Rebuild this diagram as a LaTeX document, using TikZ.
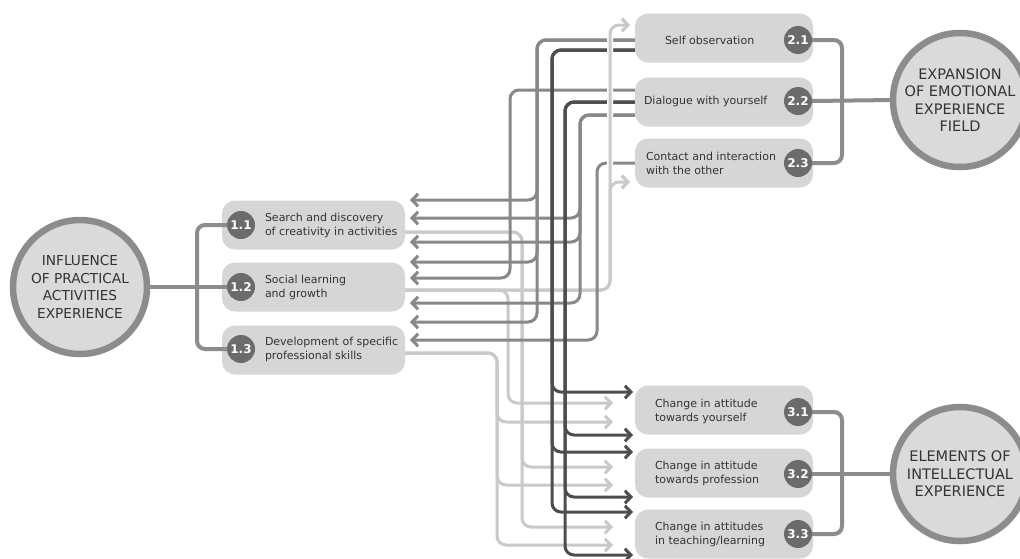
\documentclass[tikz,border=0pt]{standalone}
\usepackage{fontspec}
\setmainfont{DejaVu Sans}
\usetikzlibrary{arrows.meta}
\definecolor{cdark}{HTML}{4D4D4D}
\definecolor{cmed}{HTML}{888888}
\definecolor{clight}{HTML}{C9C9C9}
\definecolor{cbox}{HTML}{D6D6D6}
\definecolor{cbadge}{HTML}{6B6B6B}
\definecolor{cring}{HTML}{8C8C8C}
\definecolor{cfill}{HTML}{DADADA}
\definecolor{ctext}{HTML}{333333}
% connector groups: #1 = style
\newcommand\pathsA[1]{\foreach \yy in {200,262,322}{\draw[#1] (sA) -- (537,40) -- (537,\yy) -- (410,\yy);}}
\newcommand\pathsB[1]{\foreach \yy in {392,452,512}{\draw[#1] (sB) -- (552,50) -- (552,\yy) -- (633,\yy);}}
\newcommand\pathsC[1]{\draw[#1] (sC) -- (510,90) -- (510,278) -- (410,278);}
\newcommand\pathsD[1]{\foreach \yy in {435,497,555}{\draw[#1] (sD) -- (565,102) -- (565,\yy) -- (633,\yy);}}
\newcommand\pathsE[1]{\foreach \yy in {218,242,303}{\draw[#1] (sE) -- (580,115) -- (580,\yy) -- (410,\yy);}}
\newcommand\pathsF[1]{\draw[#1] (sF) -- (597,163) -- (597,340) -- (410,340);}
\newcommand\pathsLa[1]{\foreach \yy in {467,527}{\draw[#1] (sL1) -- (522,232) -- (522,\yy) -- (613,\yy);}}
\newcommand\pathsLb[1]{\draw[#1] (sL2) -- (508,290) -- (508,403) -- (613,403);}
\newcommand\pathsLt[1]{\draw[#1] (sL2) -- (610,290) -- (610,25) -- (630,25);
  \draw[#1] (sL2) -- (610,290) -- (610,182) -- (630,182);}
\newcommand\pathsLc[1]{\foreach \yy in {422,485,545}{\draw[#1] (sL3) -- (497,353) -- (497,\yy) -- (613,\yy);}}
\begin{document}
\begin{tikzpicture}[x=1pt,y=-1pt,
  every node/.style={inner sep=0pt, outer sep=0pt},
  boxnode/.style={fill=cbox, rounded corners=13pt, minimum height=49pt},
  lbox/.style={boxnode, minimum width=183pt},
  rbox/.style={boxnode, minimum width=178pt},
  badge/.style={circle, fill=cbadge, minimum size=28pt, text=white, font=\fontsize{12}{12}\selectfont\bfseries},
  txt/.style={anchor=west, align=left, text=ctext, font=\fontsize{11}{14}\selectfont},
  bigc/.style={circle, draw=cring, line width=6.5pt, fill=cfill, minimum size=134pt, align=center, text=ctext, font=\fontsize{14.5}{17.5}\selectfont},
  bracket/.style={draw=cring, line width=4pt, rounded corners=8pt},
  conn/.style={line width=3pt, rounded corners=9pt, -{Straight Barb[length=6pt,width=12.5pt]}},
  casing/.style={draw=white, line width=6pt, rounded corners=9pt},
  medline/.style={conn, draw=cmed},
  darkline/.style={conn, draw=cdark},
  liteline/.style={conn, draw=clight},
]
\useasboundingbox (0,0) rectangle (1020,558);
\clip (0,0) rectangle (1020,558);
\fill[white] (0,0) rectangle (1020,558);

% start coordinates
\coordinate (sA) at (635,40);
\coordinate (sB) at (635,50);
\coordinate (sC) at (635,90);
\coordinate (sD) at (635,102);
\coordinate (sE) at (635,115);
\coordinate (sF) at (635,163);
\coordinate (sL1) at (405,232);
\coordinate (sL2) at (405,290);
\coordinate (sL3) at (405,353);

% connectors: light ones underneath, then medium, then dark
\pathsLc{liteline}
\pathsLa{liteline}
\pathsLb{liteline}
\pathsLt{liteline}
\pathsA{medline}
\pathsC{medline}
\pathsE{medline}
\pathsF{medline}
\pathsB{darkline}
\pathsD{darkline}
% light branch to 2.1 / 2.3 crosses over the starts of the upper connectors
\begin{scope}
\clip (600,0) rectangle (640,200);
\pathsLt{casing}\pathsLt{liteline}
\end{scope}

% circles
\node[bigc, font=\fontsize{13.7}{17.8}\selectfont] (c1) at (80,287) {INFLUENCE\\OF PRACTICAL\\ACTIVITIES\\EXPERIENCE};
\node[bigc] (c2) at (960,100) {EXPANSION\\OF EMOTIONAL\\EXPERIENCE\\FIELD};
\node[bigc] (c3) at (960,474) {ELEMENTS OF\\INTELLECTUAL\\EXPERIENCE};

% boxes
\node[lbox] (b11) at (313.5,225) {};
\node[lbox] (b12) at (313.5,287) {};
\node[lbox] (b13) at (313.5,350) {};
\node[rbox] (b21) at (724,38) {};
\node[rbox] (b22) at (724,102) {};
\node[rbox] (b23) at (724,163) {};
\node[rbox] (b31) at (724,410) {};
\node[rbox] (b32) at (724,473) {};
\node[rbox] (b33) at (724,534) {};

% badges
\node[badge] (n11) at (241,225) {1.1};
\node[badge] (n12) at (241,287) {1.2};
\node[badge] (n13) at (241,349) {1.3};
\node[badge] (n21) at (798,40) {2.1};
\node[badge] (n22) at (798,101) {2.2};
\node[badge] (n23) at (798,163) {2.3};
\node[badge] (n31) at (798,412) {3.1};
\node[badge] (n32) at (798,474) {3.2};
\node[badge] (n33) at (798,534) {3.3};

% brackets
\draw[bracket] (n11.west) -- ++(-30,0) |- (n13.west);
\draw[bracket] (c1.east) -- (n12.west);
\draw[bracket] (n21.east) -- ++(30,0) |- (n23.east);
\draw[bracket] (n22.east) -- (c2.west);
\draw[bracket] (n31.east) -- ++(30,0) |- (n33.east);
\draw[bracket] (n32.east) -- (c3.west);

% texts
\node[txt] (t11) at (265,225) {Search and discovery\\of creativity in activities};
\node[txt] (t12) at (265,287) {Social learning\\and growth};
\node[txt] (t13) at (265,349) {Development of specific\\professional skills};
\node[txt] (t21) at (665,40) {Self observation};
\node[txt] (t22) at (644,101) {Dialogue with yourself};
\node[txt] (t23) at (646,163) {Contact and interaction\\with the other};
\node[txt] (t31) at (655,411) {Change in attitude\\towards yourself};
\node[txt] (t32) at (655,473) {Change in attitude\\towards profession};
\node[txt] (t33) at (655,534) {Change in attitudes\\in teaching/learning};
\end{tikzpicture}
\end{document}
